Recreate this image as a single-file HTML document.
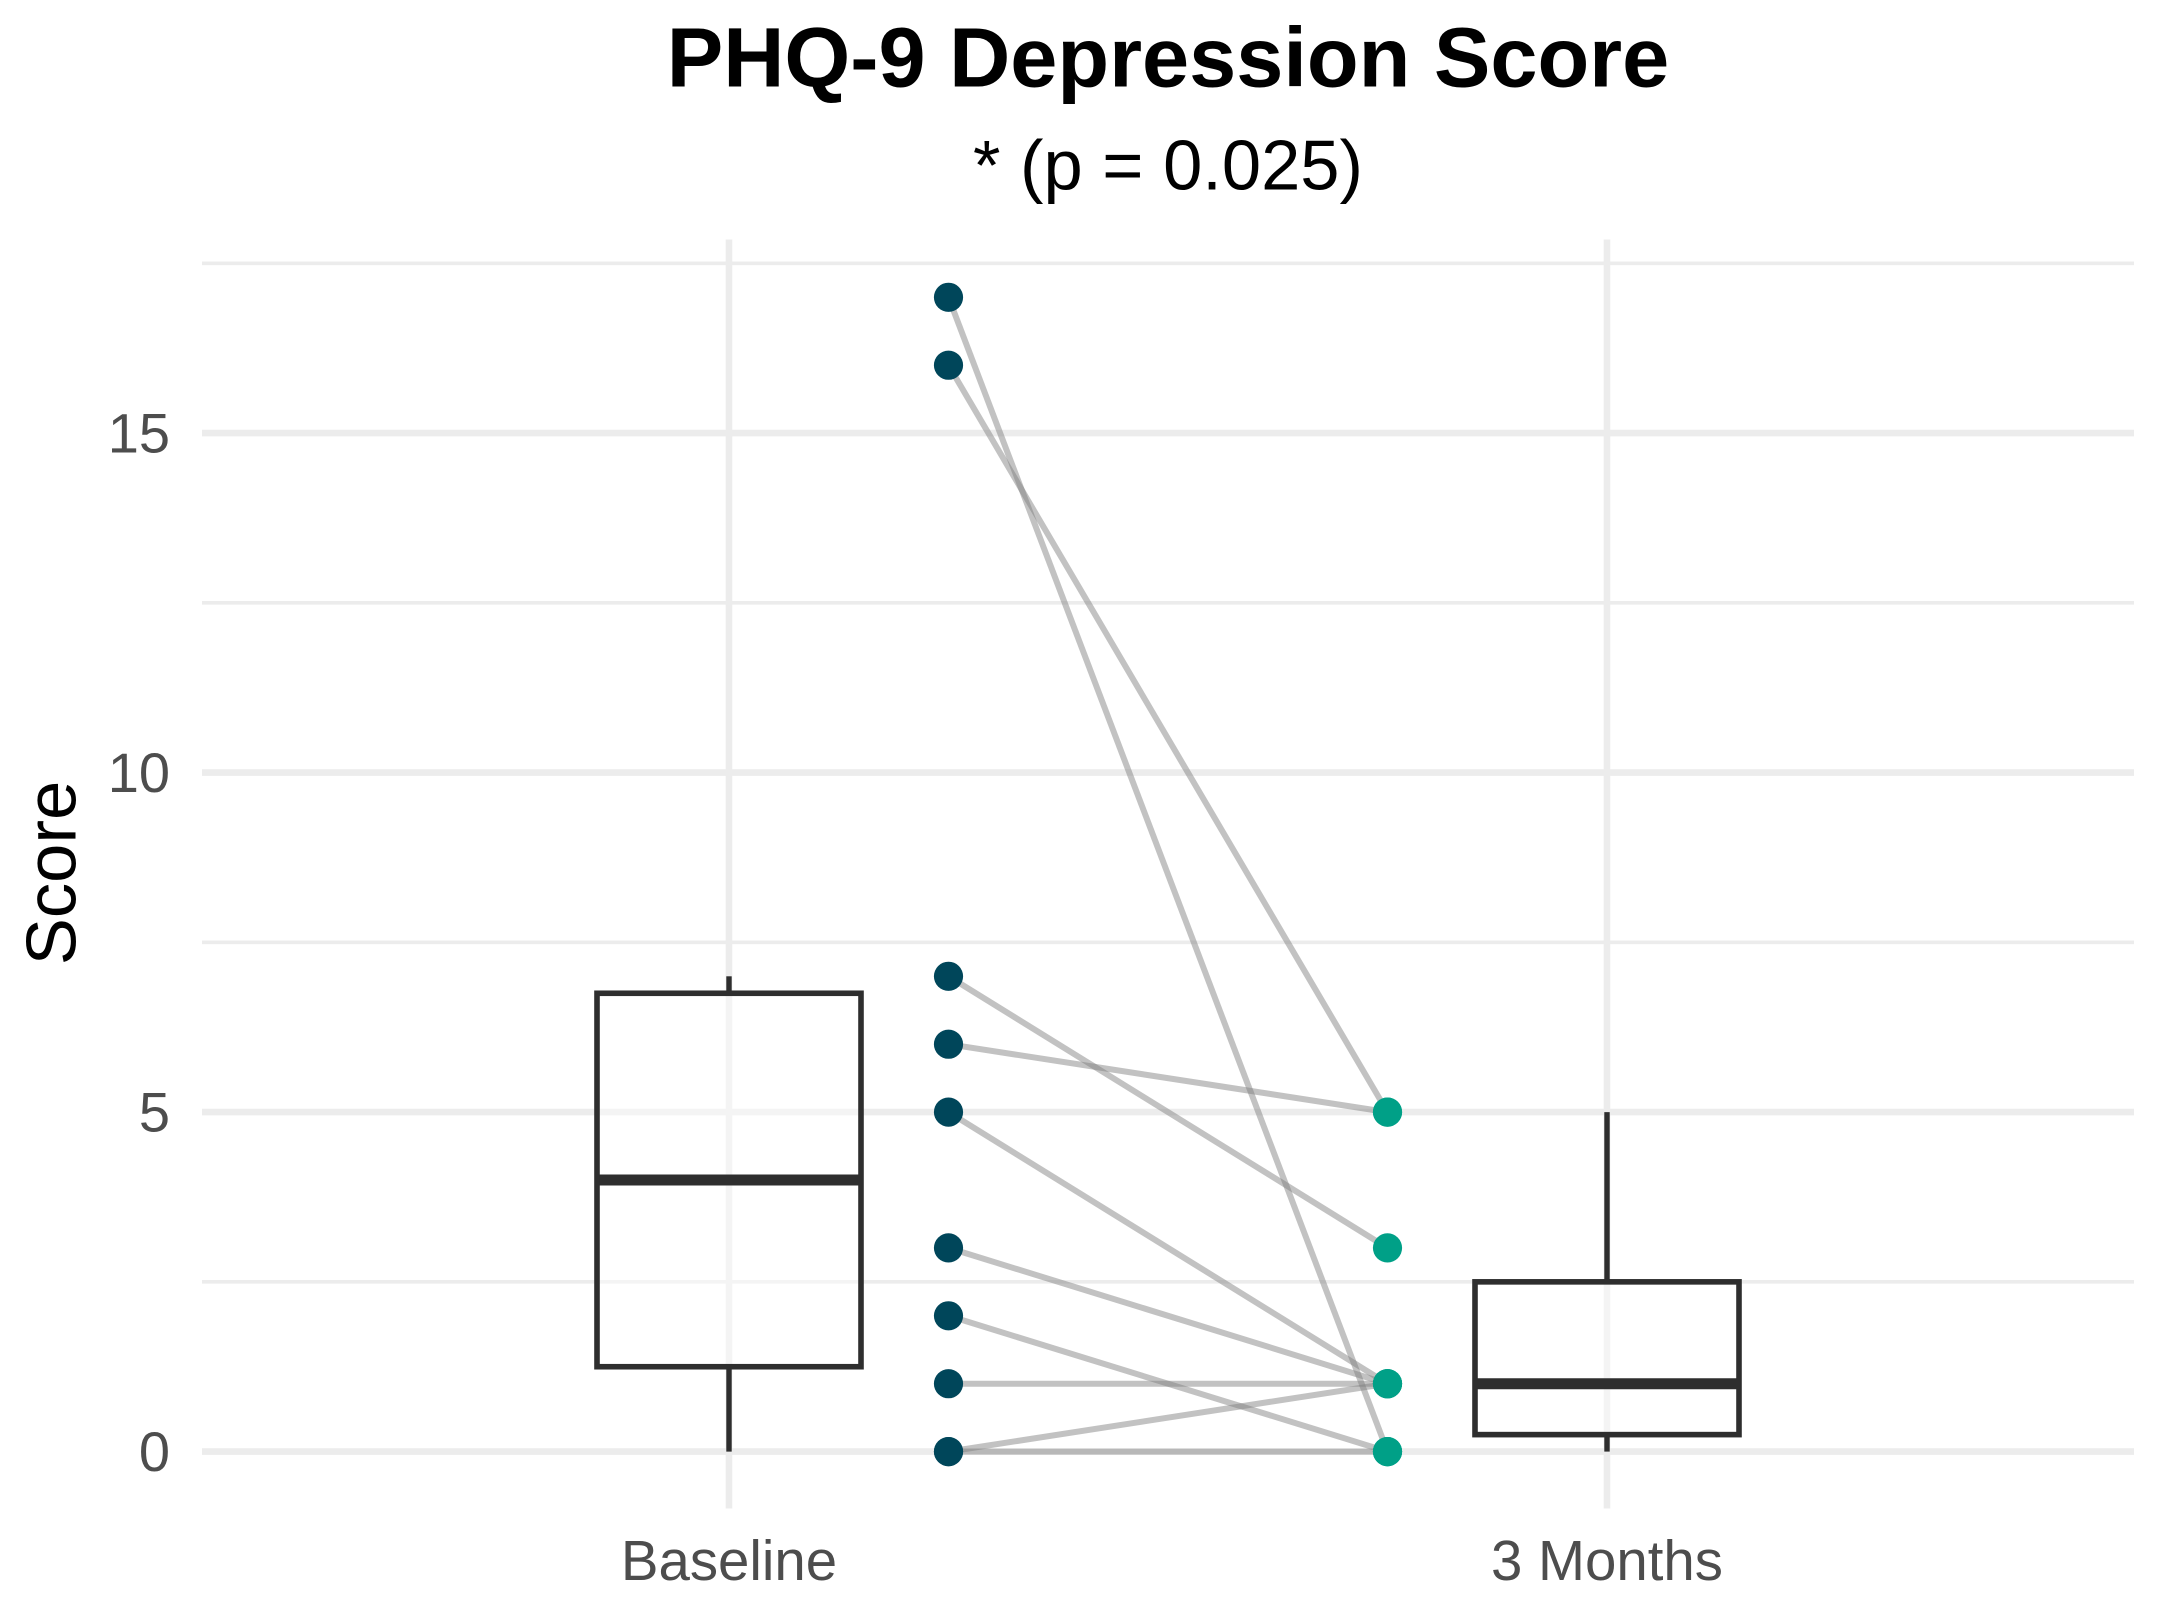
<!DOCTYPE html>
<html lang="en">
<head>
<meta charset="utf-8">
<title>PHQ-9 Depression Score</title>
<style>
  html, body { margin: 0; padding: 0; background: #ffffff; }
  svg { display: block; }
  text { font-family: "Liberation Sans", Arial, sans-serif; }
</style>
</head>
<body>
<svg id="chart" xmlns="http://www.w3.org/2000/svg" width="2157" height="1609" viewBox="0 0 2157 1609">
  <rect x="0" y="0" width="2157" height="1609" fill="#ffffff"/>
  <g id="grid"></g>
  <g id="boxes"></g>
  <g id="pairs"></g>
  <g id="points"></g>
  <g id="yticks"></g>
  <g id="xticks"></g>
  <text x="1168" y="86.7" text-anchor="middle" font-size="84.7" font-weight="700" fill="#000000">PHQ-9 Depression Score</text>
  <text x="1168" y="189.5" text-anchor="middle" font-size="70.5" fill="#000000">* (p = 0.025)</text>
  <text transform="translate(75.5,873) rotate(-90)" text-anchor="middle" font-size="70.6" fill="#000000">Score</text>
</svg>
<script>
const categories = ['Baseline', '3 Months'];
const baselineScores = [17, 16, 7, 6, 5, 3, 2, 1, 0, 0];
const monthThreeScores = [0, 5, 3, 5, 1, 1, 0, 1, 1, 0];
const yMajorTicks = [0, 5, 10, 15];
const yMinorTicks = [2.5, 7.5, 12.5, 17.5];

const NS = 'http://www.w3.org/2000/svg';
const panel = { left: 202, right: 2134, top: 239.5, bottom: 1508.5 };
const y0 = 1451.6;
const pxPerUnit = 67.9;
const xBand = 878;
const x0 = 729;
const seriesOffset = 219.5;
const boxHalfWidth = 132;

function xScale(i) { return x0 + i * xBand; }
function yScale(v) { return y0 - v * pxPerUnit; }

function make(tag, attrs, parent) {
  const el = document.createElementNS(NS, tag);
  for (const k in attrs) el.setAttribute(k, attrs[k]);
  parent.appendChild(el);
  return el;
}

function quantile(values, p) {
  const s = values.slice().sort((a, b) => a - b);
  const h = (s.length - 1) * p;
  const lo = Math.floor(h);
  const hi = Math.ceil(h);
  return s[lo] + (s[hi] - s[lo]) * (h - lo);
}

function boxStats(values) {
  const q1 = quantile(values, 0.25);
  const med = quantile(values, 0.5);
  const q3 = quantile(values, 0.75);
  const iqr = q3 - q1;
  const inFence = values.filter(v => v >= q1 - 1.5 * iqr && v <= q3 + 1.5 * iqr);
  return { q1, med, q3, lo: Math.min.apply(null, inFence), hi: Math.max.apply(null, inFence) };
}

const gridG = document.getElementById('grid');
const boxesG = document.getElementById('boxes');
const pairsG = document.getElementById('pairs');
const pointsG = document.getElementById('points');
const yTicksG = document.getElementById('yticks');
const xTicksG = document.getElementById('xticks');

yMinorTicks.forEach(function (v) {
  const line = make('line', { x1: panel.left, x2: panel.right, y1: yScale(v), y2: yScale(v), stroke: '#ececec', 'stroke-width': 3.6 }, gridG);
  
  
});

yMajorTicks.forEach(function (v) {
  const line = make('line', { x1: panel.left, x2: panel.right, y1: yScale(v), y2: yScale(v), stroke: '#ececec', 'stroke-width': 6.6 }, gridG);
  
  

  const label = make('text', { x: 170, y: yScale(v) + 19.6, 'text-anchor': 'end', 'font-size': 56, fill: '#4d4d4d' }, yTicksG);
  label.textContent = String(v);
  
  
});

categories.forEach(function (name, i) {
  const line = make('line', { x1: xScale(i), x2: xScale(i), y1: panel.top, y2: panel.bottom, stroke: '#ececec', 'stroke-width': 6.6 }, gridG);
  
  

  const label = make('text', { x: xScale(i), y: 1580, 'text-anchor': 'middle', 'font-size': 56.4, fill: '#4d4d4d' }, xTicksG);
  label.textContent = name;
  
  
});

[baselineScores, monthThreeScores].forEach(function (values, i) {
  const s = boxStats(values);
  const cx = xScale(i);

  const upper = make('line', { x1: cx, x2: cx, y1: yScale(s.q3), y2: yScale(s.hi), stroke: '#2e2e2e', 'stroke-width': 5.4 }, boxesG);
  
  

  const lower = make('line', { x1: cx, x2: cx, y1: yScale(s.q1), y2: yScale(s.lo), stroke: '#2e2e2e', 'stroke-width': 5.4 }, boxesG);
  
  

  const box = make('rect', {
    x: cx - boxHalfWidth, y: yScale(s.q3), width: 2 * boxHalfWidth, height: yScale(s.q1) - yScale(s.q3),
    fill: 'rgba(255,255,255,0.45)', stroke: '#2e2e2e', 'stroke-width': 5.6
  }, boxesG);
  
  

  const median = make('line', { x1: cx - boxHalfWidth, x2: cx + boxHalfWidth, y1: yScale(s.med), y2: yScale(s.med), stroke: '#2e2e2e', 'stroke-width': 11 }, boxesG);
  
  
});

baselineScores.forEach(function (v, i) {
  const line = make('line', {
    x1: xScale(0) + seriesOffset, y1: yScale(v),
    x2: xScale(1) - seriesOffset, y2: yScale(monthThreeScores[i]),
    stroke: '#808080', 'stroke-opacity': 0.48, 'stroke-width': 6
  }, pairsG);
  
  
});

baselineScores.forEach(function (v) {
  const dot = make('circle', { cx: xScale(0) + seriesOffset, cy: yScale(v), r: 14.6, fill: '#00465a' }, pointsG);
  
  
});

monthThreeScores.forEach(function (v) {
  const dot = make('circle', { cx: xScale(1) - seriesOffset, cy: yScale(v), r: 14.6, fill: '#00a087' }, pointsG);
  
  
});
</script>
</body>
</html>
